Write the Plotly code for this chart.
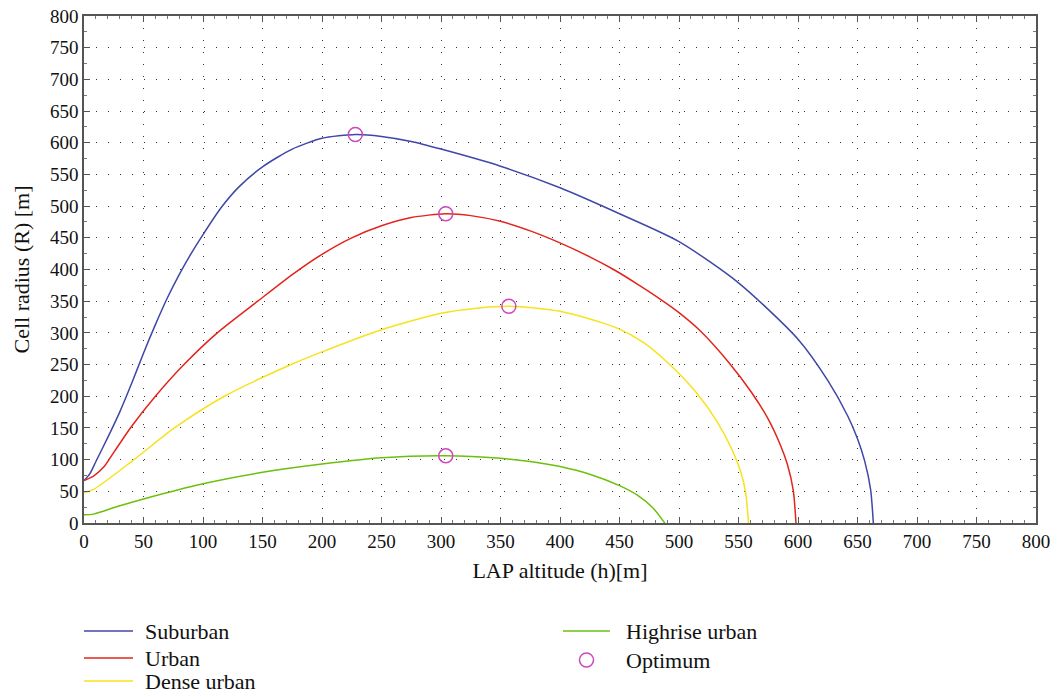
import plotly.graph_objects as go

# ---- data ----
sub_x = [0, 5, 10, 20, 30, 40, 50, 60, 70, 80, 90, 100, 115, 130, 150, 175, 200, 228, 250, 275, 300, 350, 400, 450, 500, 550, 600, 625, 642, 650, 656, 661, 663.3]
sub_y = [67, 78, 97, 135, 175, 220, 268, 313, 355, 392, 425, 455, 497, 530, 562, 590, 607, 613, 610, 602, 590, 563, 529, 488, 444, 379, 290, 225, 168, 133, 98, 53, 0]

urb_x = [0, 8, 17, 21, 39, 60, 84, 112, 146, 175, 200, 225, 250, 275, 304, 325, 350, 375, 400, 425, 445, 465, 486, 500, 518, 542, 561, 575, 585, 591, 596, 598.3]
urb_y = [67, 74, 89, 100, 150, 200, 250, 300, 350, 392, 424, 450, 469, 482, 488, 485, 476, 461, 442, 420, 400, 377, 351, 332, 303, 253, 206, 164, 124, 93, 52, 0]

den_x = [0, 8, 42, 76, 118, 174, 200, 250, 300, 330, 357, 380, 400, 425, 437, 450, 470, 490, 514, 532, 545, 552, 556, 558.4]
den_y = [48, 53, 100, 150, 200, 250, 270, 305, 331, 339, 342, 339, 334, 322, 315, 306, 285, 254, 207, 160, 114, 80, 48, 0]

hr_x = [0, 8, 28, 50, 100, 150, 200, 250, 304, 350, 375, 400, 425, 450, 465, 478, 488]
hr_y = [13, 14, 26, 38, 62, 80, 93, 103, 106, 102, 97, 89, 77, 59, 44, 24, 0]

opt_x = [228, 304, 357, 304]
opt_y = [613, 488, 342, 106]

x_ticks = list(range(0, 801, 50))
y_ticks = list(range(0, 801, 50))

names = ["Suburban", "Urban", "Dense urban", "Highrise urban", "Optimum"]
colors = ["#3f47a8", "#e3241c", "#f7e21c", "#6cc00c", "#cc48bb"]

FONT = "Liberation Serif, Times New Roman, serif"

fig = go.Figure()
series = [(sub_x, sub_y), (urb_x, urb_y), (den_x, den_y), (hr_x, hr_y)]
for (xs, ys), nm, c in zip(series, names[:4], colors[:4]):
    fig.add_trace(go.Scatter(x=xs, y=ys, mode="lines", name=nm, showlegend=False,
                             line=dict(color=c, width=1.5, shape="spline", smoothing=0.7)))
fig.add_trace(go.Scatter(x=opt_x, y=opt_y, mode="markers", name=names[4], showlegend=False,
                         marker=dict(symbol="circle-open", size=14, color=colors[4],
                                     line=dict(width=1.5, color=colors[4]))))

axis_common = dict(
    showline=True, linecolor="#555555", linewidth=1.5, mirror="ticks",
    ticks="inside", ticklen=6, tickcolor="#555555", tickwidth=1,
    showgrid=True, gridcolor="#333333", gridwidth=1, griddash="1px,11px",
    zeroline=False, automargin=False,
    tickfont=dict(family=FONT, size=19, color="#111111"),
)

fig.update_xaxes(range=[0, 800], tickvals=x_ticks, ticktext=[str(v) for v in x_ticks],
                 minor=dict(dtick=10, ticks="inside", ticklen=3, tickcolor="#777777", showgrid=False),
                 title=dict(text="LAP altitude (h)[m]", font=dict(family=FONT, size=22, color="#111111"), standoff=12),
                 **axis_common)
fig.update_yaxes(range=[0, 800], tickvals=y_ticks, ticktext=[str(v) for v in y_ticks],
                 minor=dict(dtick=25, ticks="inside", ticklen=3, tickcolor="#777777", showgrid=False),
                 title=dict(text="Cell radius (R) [m]", font=dict(family=FONT, size=22, color="#111111"), standoff=14),
                 **axis_common)

# ---- manual legend (layout positions) ----
L, R, T, B = 84, 1036, 16, 523
def px(xp):
    return (xp - L) / (R - L)
def py(yp):
    return (B - yp) / (B - T)

shapes = []
annotations = []
legend_rows = [
    (names[0], colors[0], 84, 133, 143, 631, "line"),
    (names[1], colors[1], 84, 133, 143, 658, "line"),
    (names[2], colors[2], 84, 133, 143, 681, "line"),
    (names[3], colors[3], 563, 610, 624, 631, "line"),
    (names[4], colors[4], 563, 610, 624, 660, "circle"),
]
for nm, c, lx0, lx1, tx, ry, kind in legend_rows:
    if kind == "line":
        shapes.append(dict(type="line", xref="paper", yref="paper", x0=px(lx0), x1=px(lx1),
                           y0=py(ry), y1=py(ry), line=dict(color=c, width=1.5)))
    else:
        cx = (lx0 + lx1) / 2
        shapes.append(dict(type="circle", xref="paper", yref="paper", xsizemode="pixel", ysizemode="pixel",
                           xanchor=px(cx), yanchor=py(ry), x0=-7, x1=7, y0=-7, y1=7,
                           line=dict(color=c, width=1.5)))
    annotations.append(dict(text=nm, xref="paper", yref="paper", x=px(tx), y=py(ry),
                            xanchor="left", yanchor="middle", showarrow=False,
                            font=dict(family=FONT, size=22, color="#111111")))

fig.update_layout(
    width=1058, height=697,
    margin=dict(l=L, r=1058 - R, t=T, b=697 - B, autoexpand=False),
    paper_bgcolor="white", plot_bgcolor="white",
    showlegend=False, shapes=shapes, annotations=annotations,
    font=dict(family=FONT, size=19, color="#111111"),
)

fig.write_html("out.html")
